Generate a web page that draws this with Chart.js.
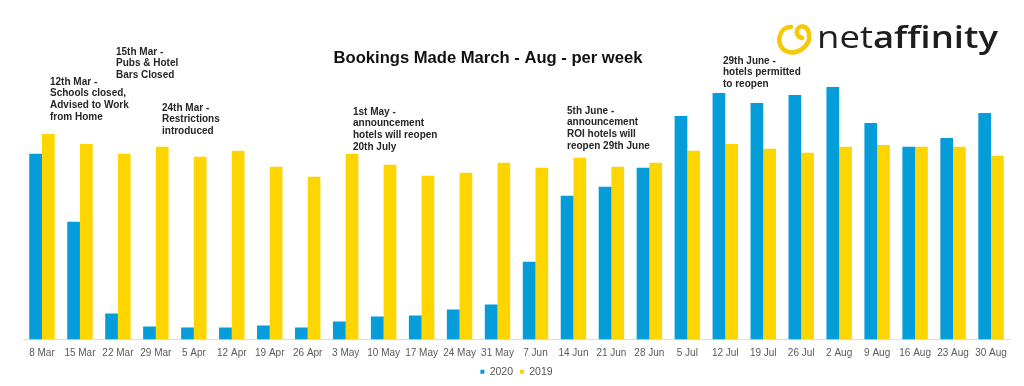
<!DOCTYPE html>
<html lang="en">
<head>
  <meta charset="UTF-8" />
  <title>Bookings Made March - Aug - per week</title>
  <script src="https://cdn.jsdelivr.net/npm/chart.js"></script>
  <style>
    html, body { margin: 0; padding: 0; background: #fff; }
    .chart-output { width: 1024px; height: 386px; }
  </style>
</head>
<body>
  <div class="chart-output">
    <canvas id="bookingsCanvas"></canvas>
  </div>

  <script>
    const weeks = ['8 Mar', '15 Mar', '22 Mar', '29 Mar', '5 Apr', '12 Apr', '19 Apr', '26 Apr',
      '3 May', '10 May', '17 May', '24 May', '31 May', '7 Jun', '14 Jun', '21 Jun', '28 Jun',
      '5 Jul', '12 Jul', '19 Jul', '26 Jul', '2 Aug', '9 Aug', '16 Aug', '23 Aug', '30 Aug'];
    const bookings2020 = [186, 118, 26, 13, 12, 12, 14, 12, 18, 23, 24, 30, 35, 78, 144, 153, 172,
      224, 247, 237, 245, 253, 217, 193, 202, 227];
    const bookings2019 = [206, 196, 186, 193, 183, 189, 173, 163, 186, 175, 164, 167, 177, 172, 182, 173, 177,
      189, 196, 191, 187, 193, 195, 193, 193, 184];

    const notes = [
      { x: 116, y: 52, lines: ['15th Mar -', 'Pubs & Hotel', 'Bars Closed'] },
      { x: 50, y: 82, lines: ['12th Mar -', 'Schools closed,', 'Advised to Work', 'from Home'] },
      { x: 162, y: 108, lines: ['24th Mar -', 'Restrictions', 'introduced'] },
      { x: 353, y: 112, lines: ['1st May -', 'announcement', 'hotels will reopen', '20th July'] },
      { x: 567, y: 111, lines: ['5th June -', 'announcement', 'ROI hotels will', 'reopen 29th June'] },
      { x: 723, y: 61, lines: ['29th June -', 'hotels permitted', 'to reopen'] }
    ];

    const decorations = {
      id: 'decorations',
      afterDraw(chart) {
        const ctx = chart.ctx;
        ctx.save();

        // title
        ctx.fillStyle = '#111';
        ctx.font = 'bold 16.6px "Liberation Sans", Arial, sans-serif';
        ctx.textAlign = 'center';
        ctx.textBaseline = 'middle';
        ctx.fillText('Bookings Made March - Aug - per week', 488, 58);

        // annotations
        ctx.fillStyle = '#262626';
        ctx.font = 'bold 10px "Liberation Sans", Arial, sans-serif';
        ctx.textAlign = 'left';
        notes.forEach(n => {
          n.lines.forEach((line, i) => ctx.fillText(line, n.x, n.y + i * 11.7));
        });

        // logo swirl
        ctx.strokeStyle = '#f8c800';
        ctx.lineWidth = 4.5;
        ctx.lineCap = 'round';
        ctx.lineJoin = 'round';
        ctx.beginPath();
        ctx.moveTo(791, 27);
        ctx.bezierCurveTo(778, 27, 775, 46, 786, 51);
        ctx.bezierCurveTo(797, 56, 811, 46, 809, 34);
        ctx.bezierCurveTo(808, 25, 798, 24, 797, 31);
        ctx.bezierCurveTo(796, 35, 799, 37, 802, 38);
        ctx.stroke();

        // logo text
        ctx.fillStyle = '#1e1e1e';
        ctx.textBaseline = 'alphabetic';
        ctx.font = '30px "Open Sans", sans-serif';
        const wNet = ctx.measureText('net').width;
        ctx.font = '600 30px "Open Sans", sans-serif';
        const wAff = ctx.measureText('affinity').width;
        const sx = 181 / (wNet + wAff);
        ctx.translate(817, 48);
        ctx.scale(sx, 1.05);
        ctx.font = '30px "Open Sans", sans-serif';
        ctx.fillText('net', 0, 0);
        ctx.font = '600 30px "Open Sans", sans-serif';
        ctx.fillText('affinity', wNet, 0);

        ctx.restore();
      }
    };

    const ctx = document.getElementById('bookingsCanvas').getContext('2d');
    new Chart(ctx, {
      type: 'bar',
      data: {
        labels: weeks,
        datasets: [{
          label: '2020',
          data: bookings2020,
          backgroundColor: '#059dd9'
        }, {
          label: '2019',
          data: bookings2019,
          backgroundColor: '#ffd500'
        }]
      },
      options: {
        responsive: true,
        maintainAspectRatio: false,
        animation: false,
        layout: {
          padding: { top: 80, left: 23, right: 14, bottom: -1 }
        },
        datasets: {
          bar: { barPercentage: 1, categoryPercentage: 0.67 }
        },
        plugins: {
          legend: {
            position: 'bottom',
            labels: {
              boxWidth: 4,
              boxHeight: 4,
              padding: 7,
              color: '#555',
              font: { size: 10.5, family: '"Liberation Sans", Arial, sans-serif' }
            }
          },
          tooltip: { enabled: false }
        },
        scales: {
          x: {
            grid: { display: false, drawTicks: false },
            border: { color: '#dcdcdc' },
            afterFit(scale) { scale.height = 20; },
            ticks: {
              color: '#595959',
              padding: 8,
              maxRotation: 0,
              autoSkip: false,
              font: { size: 10, family: '"Liberation Sans", Arial, sans-serif' }
            }
          },
          y: {
            display: false,
            min: 0,
            max: 260
          }
        }
      },
      plugins: [decorations]
    });
  </script>
</body>
</html>
